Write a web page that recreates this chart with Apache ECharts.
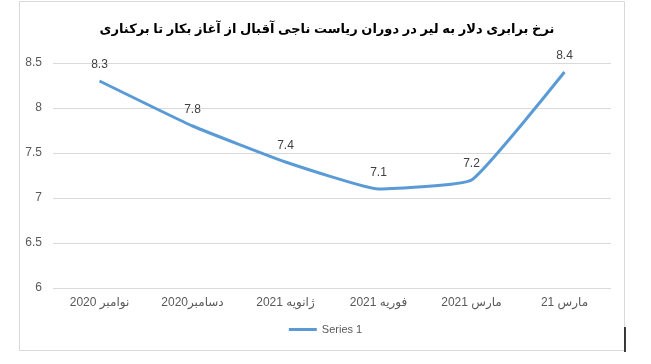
<!DOCTYPE html>
<html><head><meta charset="utf-8">
<script src="https://cdn.jsdelivr.net/npm/echarts@6/dist/echarts.min.js"></script>
<style>html,body{margin:0;padding:0;background:#fff}#c{width:651px;height:364px}</style>
</head><body><div id="c"></div>
<script>
const title = 'نرخ برابری دلار به لیر در دوران ریاست ناجی آقبال از آغاز بکار تا برکناری';
// displayed left-to-right as in the reference: number on the left, month name on the right
const categories = ['\u202A2020 نوامبر\u202C', '\u202A2020دسامبر\u202C', '\u202A2021 ژانویه\u202C', '\u202A2021 فوریه\u202C', '\u202A2021 مارس\u202C', '\u202A21 مارس\u202C'];
const values = [8.3, 7.8, 7.4, 7.1, 7.2, 8.4];
const seriesName = 'Series 1';
const yTicks = [6, 6.5, 7, 7.5, 8, 8.5];

const chart = echarts.init(document.getElementById('c'));
const font = "'Liberation Sans', Arial, 'DejaVu Sans', sans-serif";
chart.setOption({
  animation: false,
  textStyle: {fontFamily: font},
  title: {text: title, left: 322, top: 18, textAlign: 'center',
    textStyle: {fontSize: 13, fontWeight: 'bold', color: '#000', fontFamily: font}},
  grid: {left: 53, right: 40, top: 63, bottom: 76},
  legend: {bottom: 24, left: 'center', itemWidth: 28, itemHeight: 3, itemGap: 6,
    textStyle: {fontSize: 11, color: '#595959'}, data: [seriesName], icon: 'rect'},
  xAxis: {type: 'category', data: categories, boundaryGap: true,
    axisLine: {show: false}, axisTick: {show: false},
    axisLabel: {fontSize: 12, color: '#595959', margin: 9}},
  yAxis: {type: 'value', min: yTicks[0], max: yTicks[yTicks.length-1], interval: 0.5,
    axisLine: {show: false}, axisTick: {show: false},
    splitLine: {lineStyle: {color: '#d9d9d9', width: 1}},
    axisLabel: {fontSize: 12, color: '#595959', margin: 11, formatter: v => String(v)}},
  series: [{name: seriesName, type: 'line', data: values, smooth: 0.12,
    showSymbol: true, symbol: 'circle', symbolSize: 0.1,
    lineStyle: {color: '#5b9bd5', width: 3}, itemStyle: {color: '#5b9bd5', borderWidth: 0},
    label: {show: true, position: 'top', distance: 10, fontSize: 12, color: '#404040'}}],
  graphic: [
    {type: 'rect', shape: {x: 19.5, y: 1.5, width: 605, height: 349}, style: {fill: 'none', stroke: '#d9d9d9', lineWidth: 1}, silent: true},
    {type: 'line', shape: {x1: 625, y1: 327, x2: 625, y2: 352}, style: {stroke: '#000', lineWidth: 1.5}, silent: true}
  ]
});
</script></body></html>
